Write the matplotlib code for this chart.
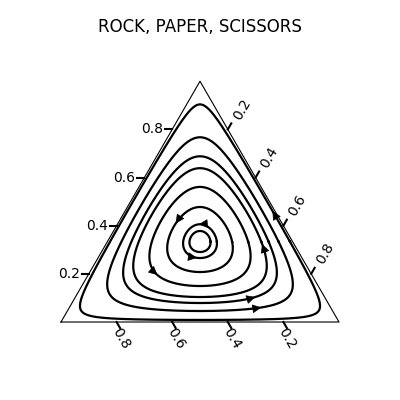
import numpy as np
import matplotlib
matplotlib.use("Agg")
import matplotlib.pyplot as plt
from matplotlib.patches import FancyArrowPatch

# value on the left axis where each orbit crosses the median below the centre
orbit_crossing = [0.2905, 0.2656, 0.2075, 0.1494, 0.1037, 0.0788, 0.0456, 0.0085]
# arrows: which orbit and at which angle (deg, around the centre)
arrow_orbit = [1, 1, 2, 3, 4, 5, 6, 7]
arrow_angle = [93, 258, 142, 217, 357, 314, 312, 22]
tick_values = [0.2, 0.4, 0.6, 0.8]

H = np.sqrt(3) / 2
cx, cy = 0.5, H / 3


def orbit(level, n=721):
    # closed orbit a*b*c = level, found along rays from the centre
    th = np.linspace(0, 2 * np.pi, n)
    lo = np.zeros(n)
    hi = np.full(n, 0.6)
    for _ in range(60):
        mid = (lo + hi) / 2
        X = cx + mid * np.cos(th)
        Y = cy + mid * np.sin(th)
        a = Y / H
        c = X - a / 2
        b = 1 - a - c
        inside = (a > 0) & (b > 0) & (c > 0)
        p = np.where(inside, a * b * c, -1)
        big = p > level
        lo = np.where(big, mid, lo)
        hi = np.where(big, hi, mid)
    r = (lo + hi) / 2
    return th, cx + r * np.cos(th), cy + r * np.sin(th)


fig = plt.figure(figsize=(4, 4), dpi=100)
ax = fig.add_axes([0, 0, 1, 1])
ax.set_xlim(-61 / 278, 339 / 278)
ax.set_ylim(-78 / 278, 322 / 278)
ax.axis('off')

# triangle
ax.plot([0, 1, 0.5, 0], [0, 0, H, 0], color='k', lw=0.8)

curves = []
for s in orbit_crossing:
    level = s * ((1 - s) / 2) ** 2
    th, X, Y = orbit(level)
    curves.append((th, X, Y))
    ax.plot(X, Y, color='k', lw=1.6)

for k, ang in zip(arrow_orbit, arrow_angle):
    th, X, Y = curves[k]
    i = int(np.argmin(np.abs(th - np.radians(ang))))
    j = min(i + 2, len(X) - 1)
    arr = FancyArrowPatch((X[i], Y[i]), (X[j], Y[j]), arrowstyle='-|>',
                          mutation_scale=14, color='k', lw=0.5)
    ax.add_patch(arr)

tl = 0.025
for v in tick_values:
    # left axis
    px, py = v * 0.5, v * H
    ax.plot([px, px - tl], [py, py], color='k', lw=1.5)
    ax.text(px - 0.032, py, f'{v:.1f}', ha='right', va='center', fontsize=10)
    # right axis (top -> bottom right)
    px, py = 0.5 + v * 0.5, H - v * H
    ax.plot([px, px + tl * 0.5], [py, py + tl * H], color='k', lw=1.5)
    ax.text(px + 0.050, py + 0.072, f'{v:.1f}', ha='center', va='center',
            rotation=60, fontsize=10)
    # bottom axis (right -> left)
    px, py = 1 - v, 0
    ax.plot([px, px + tl * 0.5], [py, py - tl * H], color='k', lw=1.5)
    ax.text(px + 0.0144, py - 0.059, f'{v:.1f}', ha='center', va='center',
            rotation=-60, fontsize=10)

fig.text(0.5, 1 - 27 / 400, 'ROCK, PAPER, SCISSORS', ha='center', va='center',
         fontsize=12)

fig.savefig('out.png', dpi=100)
